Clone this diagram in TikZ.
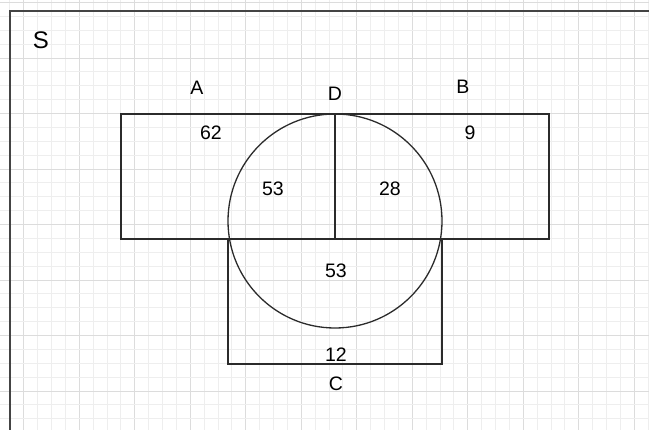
\documentclass[tikz,border=0pt]{standalone}
\usepackage{fontspec}
\setmainfont{Liberation Sans}
\definecolor{minorgrid}{HTML}{EEEEEE}
\definecolor{majorgrid}{HTML}{DCDCDC}
\definecolor{framecol}{HTML}{444444}
\definecolor{shapecol}{HTML}{2B2B2B}
\tikzset{
  lbl/.style={font=\fontsize{19.5}{22}\selectfont, text=black, inner sep=0pt},
  biglbl/.style={font=\fontsize{24}{28}\selectfont, text=black, inner sep=0pt},
  outline/.style={draw=shapecol, line width=1.3pt},
}
\begin{document}
\begin{tikzpicture}[x=1pt,y=-1pt]
\useasboundingbox (0,0) rectangle (649,430);
\fill[white] (0,0) rectangle (649,430);
% grid
\foreach \i in {-1,...,45}{
  \pgfmathsetmacro{\xx}{23.8+\i*13.875}
  \pgfmathtruncatemacro{\m}{mod(\i+4,4)}
  \ifnum\m=0
    \draw[majorgrid, line width=0.9pt] (\xx,0) -- (\xx,430);
  \else
    \draw[minorgrid, line width=0.9pt] (\xx,0) -- (\xx,430);
  \fi
}
\foreach \j in {0,...,31}{
  \pgfmathsetmacro{\yy}{2.5+\j*13.875}
  \pgfmathtruncatemacro{\m}{mod(\j,4)}
  \ifnum\m=0
    \draw[majorgrid, line width=0.9pt] (0,\yy) -- (649,\yy);
  \else
    \draw[minorgrid, line width=0.9pt] (0,\yy) -- (649,\yy);
  \fi
}
% universe frame
\draw[framecol, line width=2pt] (9.8,440) -- (9.8,10.8) -- (660,10.8);
% shapes
\draw[outline] (121,114) rectangle (549,239);
\draw[outline] (228,239) rectangle (442,364);
\draw[outline] (335,221) circle (107);
\draw[outline] (335,114) -- (335,239);
% labels
\node[biglbl] (s) at (41,40) {S};
\node[lbl] (a) at (197,88) {A};
\node[lbl] (d) at (335,94) {D};
\node[lbl] (b) at (463,87) {B};
\node[lbl] (n62) at (211,133) {62};
\node[lbl] (n9) at (470,133) {9};
\node[lbl] (n53a) at (273,189) {53};
\node[lbl] (n28) at (390,189) {28};
\node[lbl] (n53b) at (336,271) {53};
\node[lbl] (n12) at (336,355) {12};
\node[lbl] (c) at (336,384) {C};
\end{tikzpicture}
\end{document}
